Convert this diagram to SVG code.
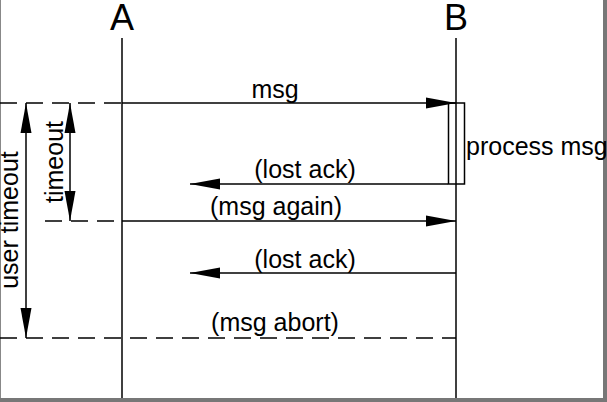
<svg xmlns="http://www.w3.org/2000/svg" width="607" height="402" viewBox="0 0 607 402">
<style>
text{font-family:"Liberation Sans",Arial,sans-serif;fill:#000}
.lbl{font-size:25px}
.big{font-size:36px}
.ln{stroke:#000;stroke-width:1.5;fill:none}
.dash{stroke:#000;stroke-width:1.5;fill:none;stroke-dasharray:17 9}
</style>
<defs>
<marker id="ah" markerUnits="userSpaceOnUse" markerWidth="30" markerHeight="12" viewBox="0 0 30 12" refX="30" refY="6" orient="auto-start-reverse">
<path d="M0,0.5 L30,6 L0,11.5 z" fill="#000"/>
</marker>
</defs>
<rect x="0" y="0" width="607" height="402" fill="#fff"/>
<g id="frame">
<line x1="0.5" y1="0" x2="0.5" y2="402" stroke="#888" stroke-width="1"/>
<rect x="603" y="0" width="4" height="402" fill="#777"/>
<rect x="0" y="398" width="607" height="4" fill="#777"/>
</g>
<g id="A">
<text class="big" x="122" y="30" text-anchor="middle">A</text>
<line class="ln" x1="122" y1="38" x2="122" y2="398"/>
</g>
<g id="B">
<text class="big" x="456" y="30" text-anchor="middle">B</text>
<line class="ln" x1="456" y1="38" x2="456" y2="398"/>
</g>
<g id="activation">
<rect x="448.5" y="103" width="16" height="81" fill="none" stroke="#000" stroke-width="1.5"/>
<text class="lbl" x="466" y="155">process msg</text>
</g>
<g id="connectors">
<line class="dash" x1="0" y1="103" x2="122" y2="103"/>
<line class="ln" x1="122" y1="103" x2="456" y2="103" marker-end="url(#ah)"/>
<line class="ln" x1="448" y1="184" x2="190" y2="184" marker-end="url(#ah)"/>
<line class="dash" x1="45" y1="221" x2="122" y2="221"/>
<line class="ln" x1="122" y1="221" x2="456" y2="221" marker-end="url(#ah)"/>
<line class="ln" x1="456" y1="273" x2="190" y2="273" marker-end="url(#ah)"/>
<line class="dash" x1="0" y1="338" x2="456" y2="338"/>
<line class="ln" x1="70" y1="103" x2="70" y2="221" marker-start="url(#ah)" marker-end="url(#ah)"/>
<line class="ln" x1="26" y1="103" x2="26" y2="338" marker-start="url(#ah)" marker-end="url(#ah)"/>
</g>
<g id="labels">
<text class="lbl" x="275" y="98" text-anchor="middle">msg</text>
<text class="lbl" x="305" y="178" text-anchor="middle">(lost ack)</text>
<text class="lbl" x="276" y="215" text-anchor="middle">(msg again)</text>
<text class="lbl" x="305" y="268" text-anchor="middle">(lost ack)</text>
<text class="lbl" x="275" y="331" text-anchor="middle">(msg abort)</text>
<text class="lbl" transform="translate(63,162) rotate(-90)" text-anchor="middle">timeout</text>
<text class="lbl" transform="translate(18,220) rotate(-90)" text-anchor="middle">user timeout</text>
</g>
</svg>
